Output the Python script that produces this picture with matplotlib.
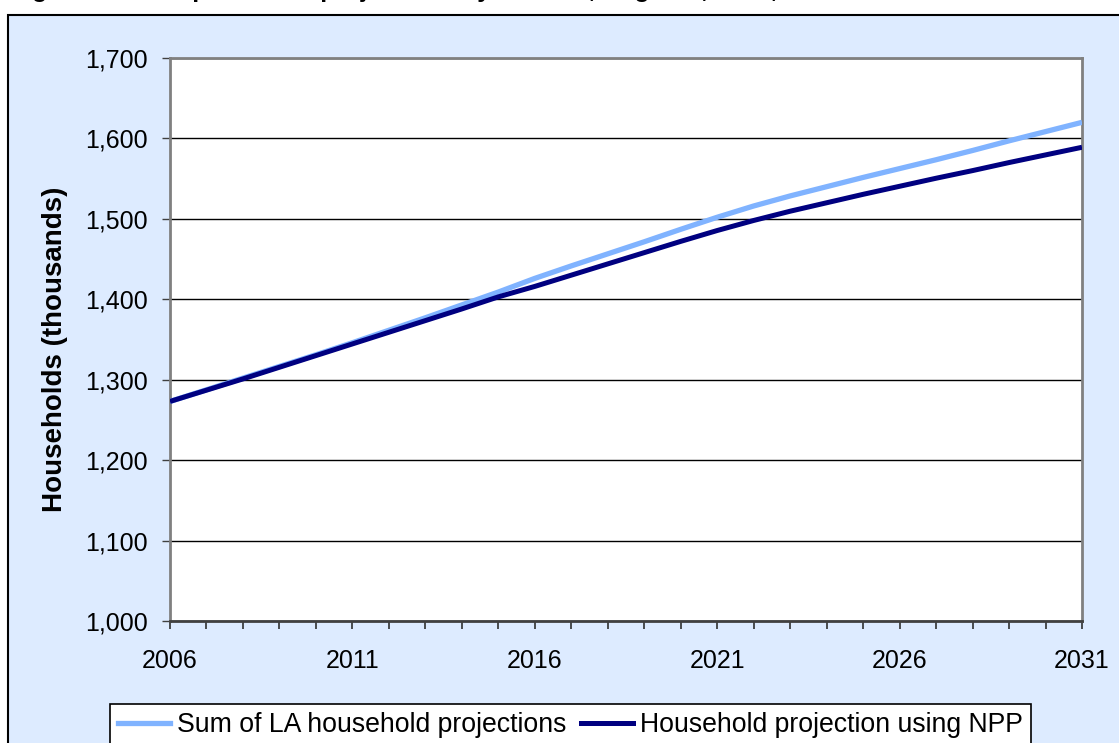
import matplotlib
matplotlib.use("Agg")
import matplotlib.pyplot as plt
from matplotlib.patches import Rectangle
from matplotlib.ticker import FixedLocator, FuncFormatter
from matplotlib.lines import Line2D

plt.rcParams['font.family'] = ['Liberation Sans', 'DejaVu Sans']

years = list(range(2006, 2032))
sum_la = [1273, 1287.5, 1302, 1316.5, 1331, 1346, 1361.5, 1377, 1393, 1409, 1426,
          1441.5, 1456.5, 1471.5, 1487, 1502, 1516, 1528.5, 1540, 1551.5, 1562.5,
          1573.5, 1585, 1597, 1608.5, 1620]
npp = [1273, 1287, 1301, 1315.5, 1330, 1344.5, 1359, 1373.5, 1388, 1403, 1416,
       1430, 1444, 1458, 1472, 1485.5, 1498, 1509.5, 1520, 1530.5, 1540.5,
       1550.5, 1560, 1570, 1579.5, 1589]
label_years = [2006, 2011, 2016, 2021, 2026, 2031]
yticks = [1000, 1100, 1200, 1300, 1400, 1500, 1600, 1700]
series_names = ["Sum of LA household projections", "Household projection using NPP"]
colors = ["#80B3FF", "#000080"]
title = "Figure 12: Comparison of projections by method, England, 2006, 2031"

W, H = 1119, 743
fig = plt.figure(figsize=(W / 100, H / 100), dpi=100)
fig.patch.set_facecolor("white")

# outer chart area box
bg = Rectangle((8 / W, -0.05), 1.1, 1 - 15 / H + 0.05, transform=fig.transFigure,
               facecolor="#DDEBFF", edgecolor="black", linewidth=1.5, zorder=-5,
               clip_on=False)
fig.patches.append(bg)

# title is cut off at the top edge in the reference (only descenders visible)
fig.text(10 / W, 1 + 3 / H, title, fontsize=18, fontweight="bold",
         va="baseline", ha="left")

ax = fig.add_axes([170 / W, 1 - 621 / H, (1082 - 170) / W, (621 - 58) / H])
ax.set_zorder(2)
ax.set_facecolor("white")

ax.plot(years, sum_la, color=colors[0], lw=3.8, solid_capstyle="butt",
        solid_joinstyle="round", zorder=3)
ax.plot(years, npp, color=colors[1], lw=3.6, solid_capstyle="butt",
        solid_joinstyle="round", zorder=4)

ax.set_xlim(2006, 2031)
ax.set_ylim(1000, 1700)

ax.set_yticks(yticks)
ax.yaxis.set_major_formatter(FuncFormatter(lambda v, p: f"{int(v):,}"))
ax.xaxis.set_major_locator(FixedLocator(label_years))
ax.xaxis.set_minor_locator(FixedLocator(years))
ax.xaxis.set_major_formatter(FuncFormatter(lambda v, p: f"{int(v)}"))

ax.tick_params(axis="y", which="major", direction="out", length=6, width=1,
               color="#404040", labelsize=18, pad=10)
ax.tick_params(axis="x", which="both", direction="out", length=6, width=1.2,
               color="#303030", labelsize=18, pad=14)

ax.grid(axis="y", color="black", lw=1)
ax.set_axisbelow(True)

for s in ["left", "top", "right"]:
    ax.spines[s].set_color("#808080")
    ax.spines[s].set_linewidth(2)
ax.spines["bottom"].set_color("#404040")
ax.spines["bottom"].set_linewidth(2)

fig.text(55 / W, 1 - 349 / H, "Households (thousands)",
         rotation=90, fontsize=20, fontweight="bold", ha="center", va="center")

handles = [Line2D([], [], color=colors[0], lw=3.8),
           Line2D([], [], color=colors[1], lw=3.6)]
leg = fig.legend(handles, series_names, loc="upper left",
                 bbox_to_anchor=(110 / W, 1 - 704 / H), ncol=2, fontsize=19.2,
                 frameon=True, fancybox=False, shadow=False, edgecolor="black",
                 facecolor="white", framealpha=1, handlelength=1.95,
                 handletextpad=0.27, columnspacing=0.55, borderpad=0.3,
                 borderaxespad=0)
leg.get_frame().set_linewidth(1.2)

fig.savefig("out.png", dpi=100, facecolor="white")
